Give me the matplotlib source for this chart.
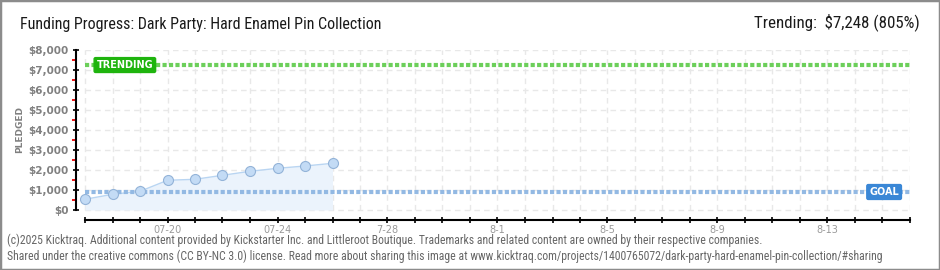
import numpy as np
import pandas as pd
import matplotlib
matplotlib.use("Agg")
import matplotlib.pyplot as plt
from matplotlib.patches import Rectangle

NARROW = ["Roboto Condensed", "Roboto", "DejaVu Sans"]
PLAIN = ["DejaVu Sans"]

TITLE = "Funding Progress: Dark Party: Hard Enamel Pin Collection"
TREND_TEXT = "Trending:  $7,248 (805%)"
FOOTER = ("(c)2025 Kicktraq. Additional content provided by Kickstarter Inc. and Littleroot Boutique. "
          "Trademarks and related content are owned by their respective companies.\n"
          "Shared under the creative commons (CC BY-NC 3.0) license. Read more about sharing this image at "
          "www.kicktraq.com/projects/1400765072/dark-party-hard-enamel-pin-collection/#sharing")

start_date = "2025-07-17"
end_date = "2025-08-16"
dates = ["2025-07-17", "2025-07-18", "2025-07-19", "2025-07-20", "2025-07-21",
         "2025-07-22", "2025-07-23", "2025-07-24", "2025-07-25", "2025-07-26"]
pledged = [535, 785, 935, 1485, 1535, 1735, 1935, 2085, 2200, 2335]
goal = 900
trending = 7248

label_dates = ["2025-07-20", "2025-07-24", "2025-07-28", "2025-08-01",
               "2025-08-05", "2025-08-09", "2025-08-13"]
label_text = ["07-20", "07-24", "7-28", "8-1", "8-5", "8-9", "8-13"]
y_ticks = [0, 1000, 2000, 3000, 4000, 5000, 6000, 7000, 8000]
y_labels = ["$0", "$1,000", "$2,000", "$3,000", "$4,000", "$5,000", "$6,000", "$7,000", "$8,000"]

t0 = pd.Timestamp(start_date)
days = (pd.to_datetime(dates) - t0).days.values
n_days = (pd.Timestamp(end_date) - t0).days
all_days = np.arange(n_days + 1)
label_days = (pd.to_datetime(label_dates) - t0).days.values

W, H = 940, 270
fig = plt.figure(figsize=(W / 100, H / 100), dpi=100)
fig.patch.set_facecolor("white")

# axes box: left spine at x=76px, bottom spine at y=220px
ax = fig.add_axes([76 / W, 1 - 220 / H, (910 - 76) / W, (220 - 50) / H])
ax.set_xlim(-9 / 27.5, n_days)
ax.set_ylim(-500, 8000)
ax.set_facecolor("none")

# grid
grid_kw = dict(color="#e8e8e8", lw=1, linestyles=(0, (4, 3)), zorder=0)
ax.hlines(y_ticks, 0, n_days, **grid_kw)
ax.vlines(all_days, 0, 8000, **grid_kw)

# pledged area
ax.fill_between(days, 0, pledged, color="#ebf3fc", zorder=1, lw=0)
ax.plot(days, pledged, color="#b9d5f2", lw=1, zorder=2)
ax.plot(days, pledged, "o", ms=7.2, mfc="#c3dbf5", mec="#93b3d8", mew=0.8, zorder=5)

# goal & trending lines
ax.plot([0, n_days], [goal, goal], color="#93b9e3", lw=3, ls=(0, (1, 0.55)),
        dash_capstyle="butt", zorder=3)
ax.plot([0, n_days], [trending, trending], color="#6ccf5a", lw=3, ls=(0, (1, 0.55)),
        dash_capstyle="butt", zorder=3)

ax.text(0.42, trending, "TRENDING", color="white", fontsize=7, fontweight="bold",
        family=PLAIN, ha="left", va="center", zorder=6,
        bbox=dict(boxstyle="round,pad=0.25,rounding_size=0.15", fc="#1fb40e", ec="#1fb40e"))
ax.text(29.6, goal, "GOAL", color="white", fontsize=7, fontweight="bold",
        family=PLAIN, ha="right", va="center", zorder=6,
        bbox=dict(boxstyle="round,pad=0.25,rounding_size=0.15", fc="#3a87d6", ec="#3a87d6"))

# spines / ticks
for s in ["top", "right"]:
    ax.spines[s].set_visible(False)
ax.spines["left"].set_bounds(0, 8000)
ax.spines["bottom"].set_bounds(0, n_days)
ax.spines["left"].set_linewidth(1.5)
ax.spines["bottom"].set_linewidth(1.5)

ax.set_yticks(y_ticks)
ax.set_yticklabels(y_labels, family=PLAIN, fontsize=7.5, color="#808080", fontweight="bold")
ax.set_yticks(np.arange(500, 8000, 1000), minor=True)
ax.tick_params(axis="y", which="major", direction="inout", length=4.5, width=1.2,
               color="black", pad=3.2)
ax.tick_params(axis="y", which="minor", direction="out", length=2.8, width=1.3, color="#ee0000")

ax.set_xticks(all_days)
ax.set_xticklabels([label_text[list(label_days).index(d)] if d in label_days else ""
                    for d in all_days], family=PLAIN, fontsize=7, color="#9a9a9a")
ax.tick_params(axis="x", which="major", direction="inout", length=4.5, width=1.2,
               color="black", pad=1.5)

# texts
fig.text(20 / W, 1 - 129 / H, "PLEDGED", rotation=90, ha="center", va="center",
         fontsize=6.5, color="#808080", family=PLAIN, fontweight="bold")
fig.text(20 / W, 1 - 24 / H, TITLE, ha="left", va="center", fontsize=11.5,
         color="#1a1a1a", family=NARROW)
fig.text(920 / W, 1 - 22 / H, TREND_TEXT, ha="right", va="center", fontsize=12.2,
         color="#1a1a1a", family=NARROW)
fig.text(7 / W, 1 - 248.5 / H, FOOTER, ha="left", va="center", fontsize=8.5,
         color="#666666", family=NARROW, linespacing=1.25)

fig.patches.append(Rectangle((0, 0), 1, 1, transform=fig.transFigure, fill=False,
                             ec="#8c8c8c", lw=2.5))

fig.savefig("out.png", dpi=100, facecolor="white")
